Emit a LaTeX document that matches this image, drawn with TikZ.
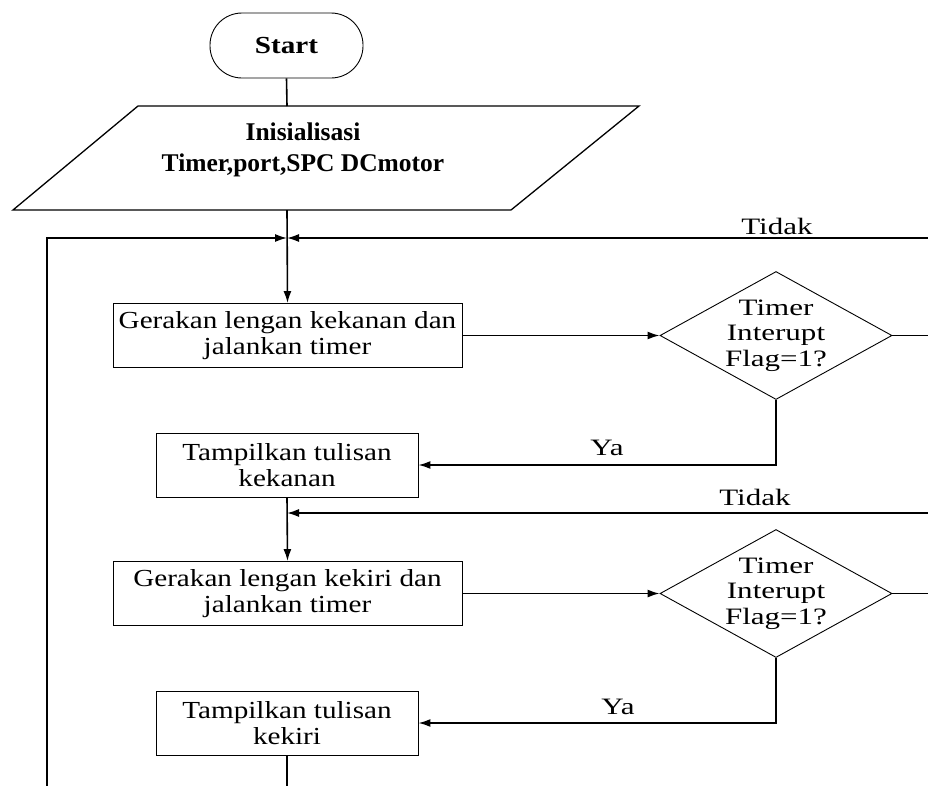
\documentclass[tikz,border=0pt]{standalone}
\usepackage{fontspec}
\setmainfont{Liberation Serif}
\newfontfamily\boxf{Liberation Serif}[FakeStretch=1.19]
\newfontfamily\decf{Liberation Serif}[FakeStretch=1.32]
\usetikzlibrary{arrows.meta,shapes.geometric}
\begin{document}
\begin{tikzpicture}[x=1pt,y=-1pt,
  shapeline/.style={draw=black,line width=0.9pt},
  procbox/.style={shapeline,rectangle,inner sep=0pt,align=center,minimum height=64pt,
    font=\boxf\fontsize{24.5}{26}\selectfont},
  decbox/.style={shapeline,diamond,inner sep=0pt,minimum width=232pt,minimum height=128pt},
  dectext/.style={align=center,inner sep=0pt,font=\decf\fontsize{23.5}{25.5}\selectfont},
  termbox/.style={shapeline,rectangle,rounded corners=32pt,minimum width=153pt,minimum height=65pt,
    inner sep=0pt,font=\boxf\bfseries\fontsize{24.5}{26}\selectfont},
  lbl/.style={inner sep=0pt,font=\decf\fontsize{23.5}{26}\selectfont},
  conn/.style={line width=1.6pt},
  arr/.style={conn,-{Latex[length=12pt,width=8pt]}}]
\useasboundingbox (0,0) rectangle (928,785);
% start
\node[termbox] (start) at (286.5,45.5) {Start};
% parallelogram
\coordinate (p1) at (138,106);
\coordinate (p2) at (639,106);
\coordinate (p3) at (511,210);
\coordinate (p4) at (13,210);
\draw[line width=1.3pt] (p1) -- (p2) -- (p3) -- (p4) -- cycle;
\node[align=center,inner sep=0pt,font=\bfseries\fontsize{25.5}{31}\selectfont] (init) at (303,150) {Inisialisasi\\Timer,port,SPC DCmotor};
\coordinate (inittop) at (287,106);
\coordinate (initbot) at (287,210);
% boxes
\node[procbox,minimum width=349pt] (b1) at (287.5,335.5) {Gerakan lengan kekanan dan\\jalankan timer};
\node[procbox,minimum width=262pt] (b2) at (287,465) {Tampilkan tulisan\\kekanan};
\node[procbox,minimum width=349pt] (b3) at (287.5,593.5) {Gerakan lengan kekiri dan\\jalankan timer};
\node[procbox,minimum width=262pt] (b4) at (287,723) {Tampilkan tulisan\\kekiri};
% diamonds
\node[decbox] (d1) at (776,335.5) {};
\node[dectext] (t1) at (d1) {Timer\\Interupt\\Flag=1?};
\node[decbox] (d2) at (776,593.5) {};
\node[dectext] (t2) at (d2) {Timer\\Interupt\\Flag=1?};
% helper coordinates
\coordinate (j1) at (287,238);
\coordinate (j2) at (287,513);
\coordinate (lbot) at (47,786);
\coordinate (lcor) at (47,238);
\coordinate (r1) at (929,238);
\coordinate (r2) at (929,513);
\coordinate (d1r) at (929,335.5);
\coordinate (d2r) at (929,593.5);
\coordinate (bend1) at (776,465);
\coordinate (bend2) at (776,723);
\coordinate (bot) at (287,786);
% connectors
\draw[conn] (start.south) -- (inittop);
\draw[arr] (initbot) -- (b1.north);
\draw[arr] (lbot) -- (lcor) -- (j1);
\draw[arr] (r1) -- (j1);
\node[lbl] (tidak1) at (777,226) {Tidak};
\draw[arr] (b1.east) -- (d1.west);
\draw[conn] (d1.east) -- (d1r);
\draw[arr] (d1.south) -- (bend1) -- (b2.east);
\node[lbl] (ya1) at (607,448) {Ya};
\draw[arr] (b2.south) -- (b3.north);
\draw[arr] (r2) -- (j2);
\node[lbl] (tidak2) at (755,497) {Tidak};
\draw[arr] (b3.east) -- (d2.west);
\draw[conn] (d2.east) -- (d2r);
\draw[arr] (d2.south) -- (bend2) -- (b4.east);
\node[lbl] (ya2) at (618,707) {Ya};
\draw[conn] (b4.south) -- (bot);
\end{tikzpicture}
\end{document}
